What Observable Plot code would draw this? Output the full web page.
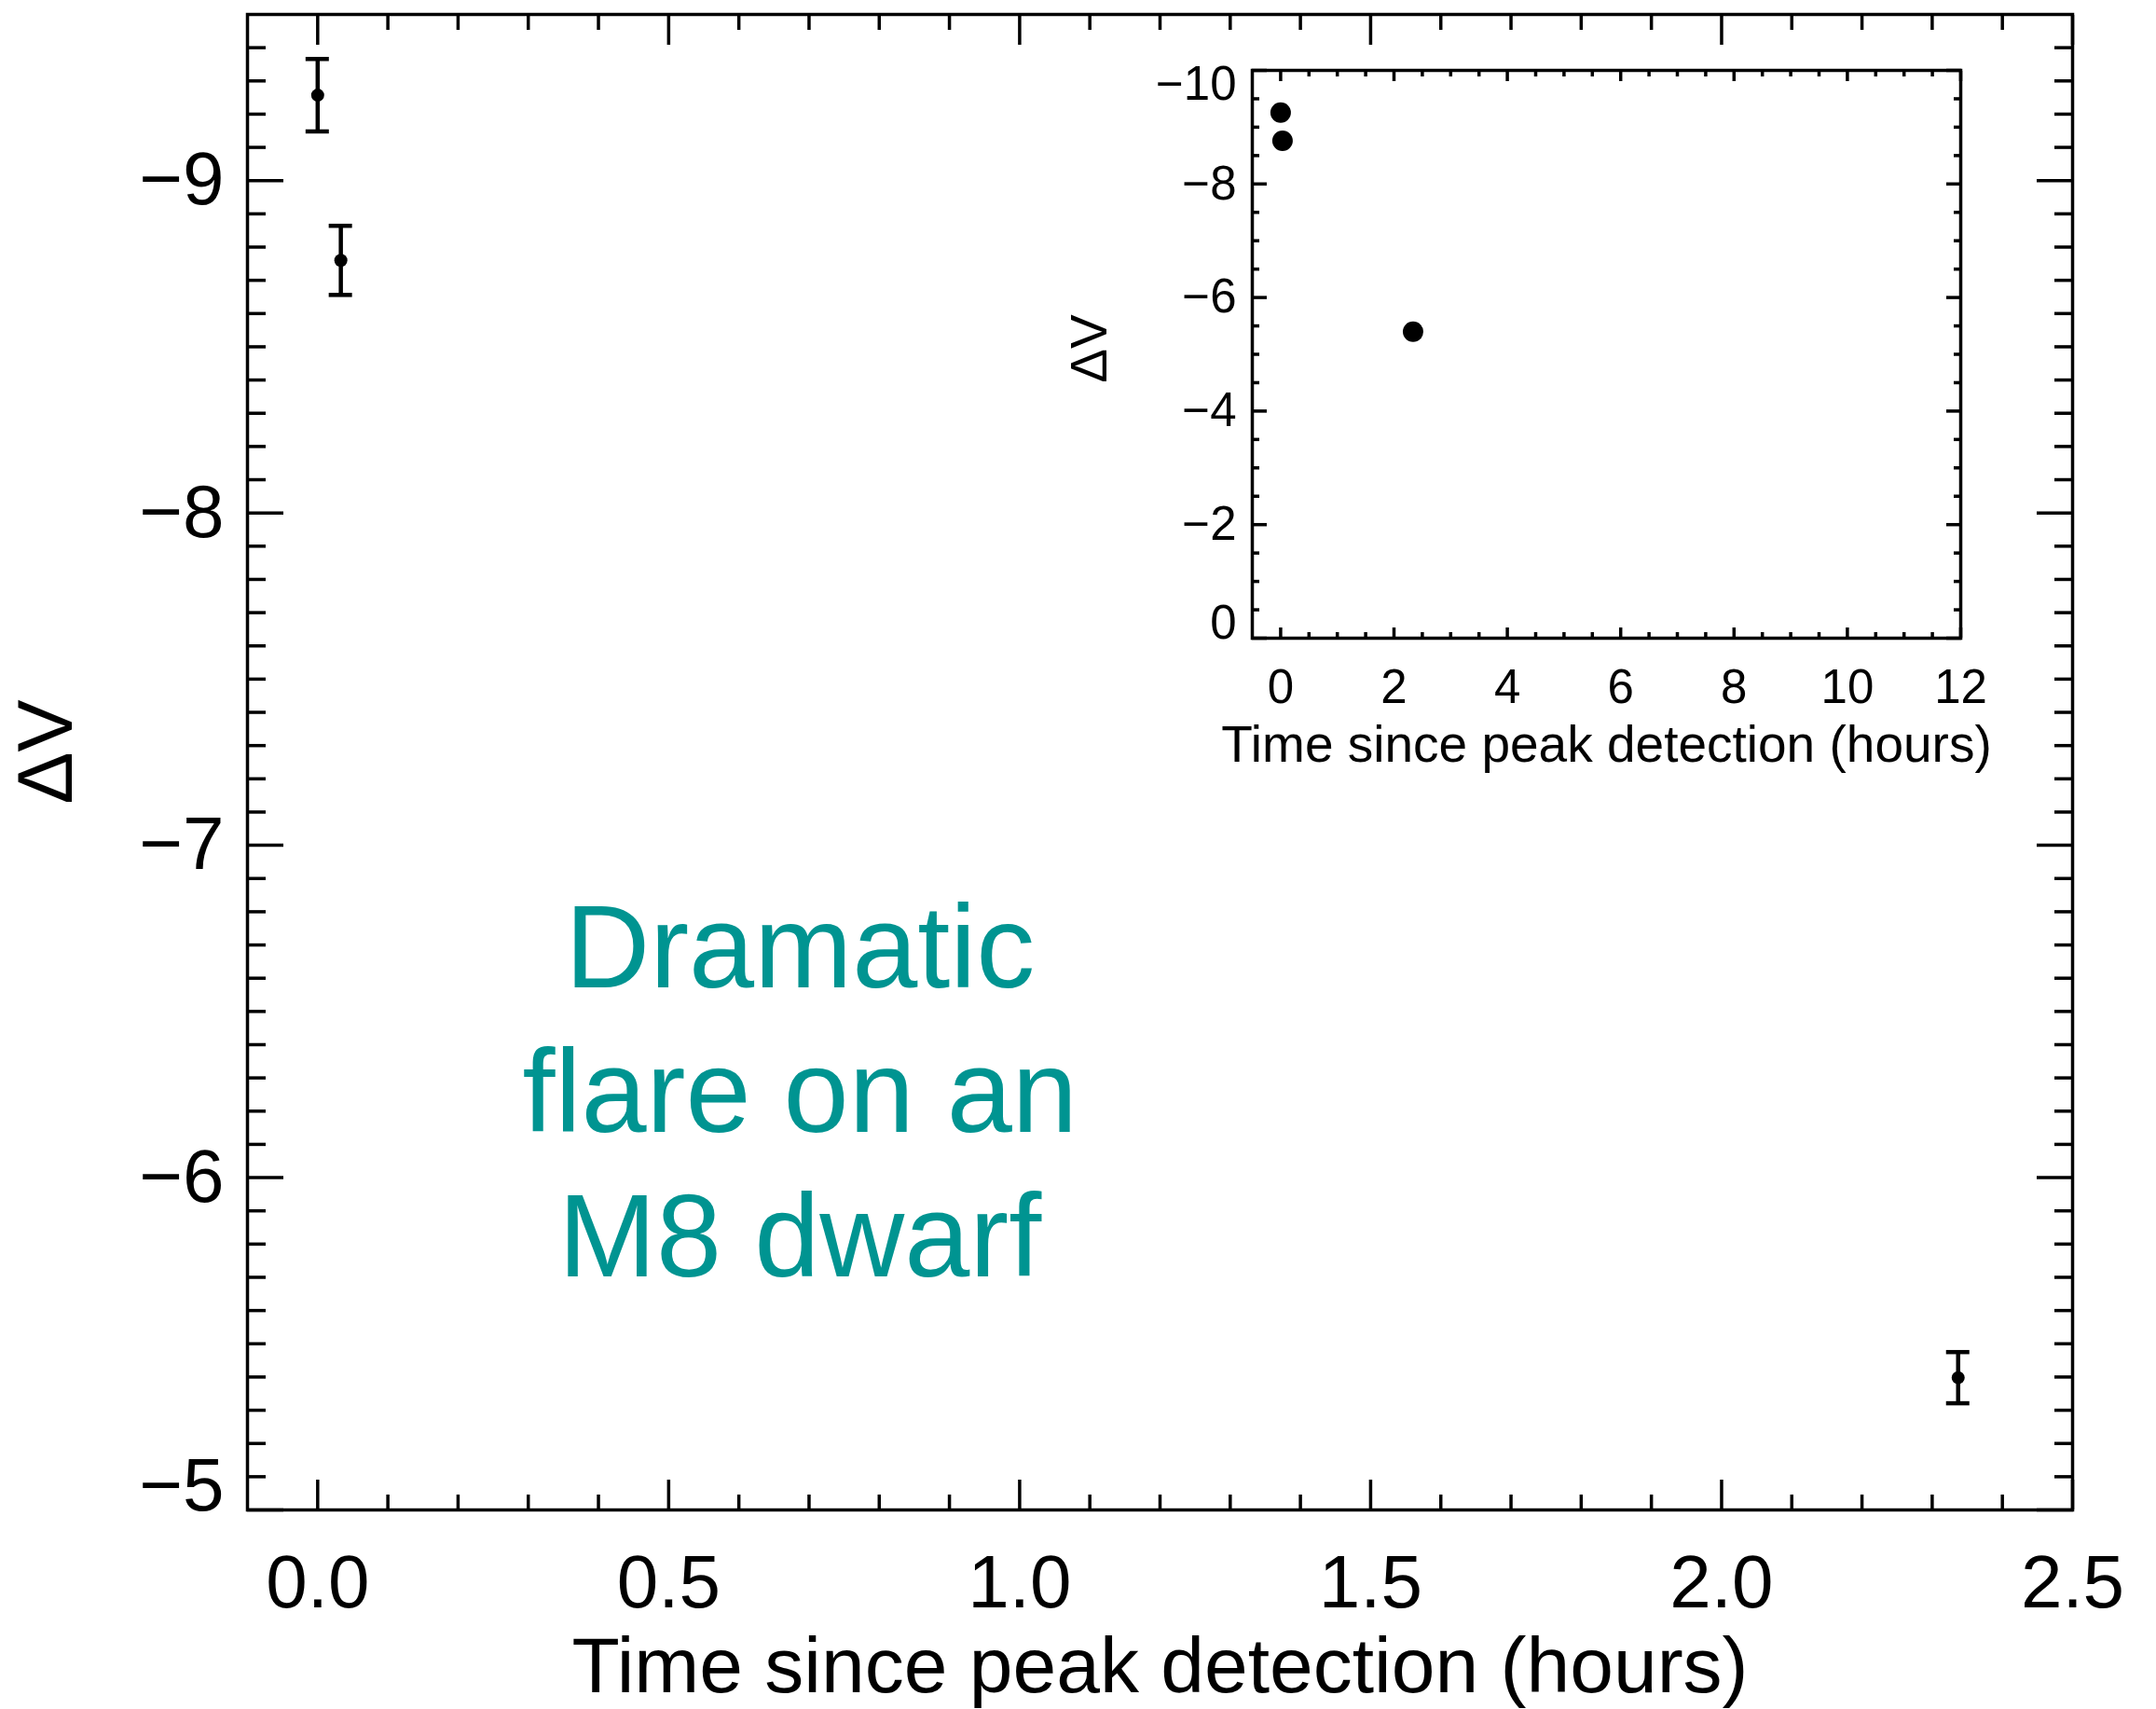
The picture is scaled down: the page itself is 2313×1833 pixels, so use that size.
<!DOCTYPE html>
<html><head><meta charset="utf-8">
<script src="https://cdn.jsdelivr.net/npm/d3@7"></script>
<script src="https://cdn.jsdelivr.net/npm/@observablehq/plot@0.6"></script>
<style>
html,body{margin:0;padding:0;background:#fff;overflow:hidden;}
#wrap{position:relative;width:2313px;height:1833px;}
#main{position:absolute;left:0;top:0;}
#inset{position:absolute;left:1100px;top:40px;}
</style></head>
<body><div id="wrap"><div id="main"></div><div id="inset"></div></div>
<script>
// ---- data ----
const time = [0.0, 0.033, 2.337];          // hours since peak detection
const deltaV = [-9.257, -8.760, -5.398];   // ΔV (mag)
const deltaVErr = [0.109, 0.104, 0.077];   // 1σ error

// ---- tick values / labels ----
const mainXTicks = [0, 0.5, 1.0, 1.5, 2.0, 2.5];
const mainXTickLabels = ["0.0", "0.5", "1.0", "1.5", "2.0", "2.5"];
const mainYTicks = [-9, -8, -7, -6, -5];
const mainYTickLabels = ["−9", "−8", "−7", "−6", "−5"];
const insetXTicks = [0, 2, 4, 6, 8, 10, 12];
const insetXTickLabels = ["0", "2", "4", "6", "8", "10", "12"];
const insetYTicks = [-10, -8, -6, -4, -2, 0];
const insetYTickLabels = ["−10", "−8", "−6", "−4", "−2", "0"];

const xTitle = "Time since peak detection (hours)";
const yTitle = "ΔV";
const annotation = [{time: 0.687, deltaV: -6.277, text: "Dramatic\nflare on an\nM8 dwarf"}];

// ---- helpers ----
const points = time.map((t, i) => ({time: t, dV: deltaV[i], lo: deltaV[i] - deltaVErr[i], hi: deltaV[i] + deltaVErr[i]}));
function minorTicks(a, b, step, majors) {
  return d3.range(Math.round(a / step), Math.round(b / step) + 1)
    .map(k => +(k * step).toFixed(6))
    .filter(v => !majors.some(m => Math.abs(m - v) < 1e-9));
}
const mainXMinor = minorTicks(0, 2.4, 0.1, mainXTicks);
const mainYMinor = minorTicks(-9.4, -5.1, 0.1, mainYTicks);
const insetXMinor = minorTicks(0.5, 11.5, 0.5, insetXTicks);
const insetYMinor = minorTicks(-9.5, -0.5, 0.5, insetYTicks);

const FONT = "'Liberation Sans', Arial, Helvetica, sans-serif";
const SW = 3.5;

function ticks(vals, anchor, size) {
  const ax = (anchor === "top" || anchor === "bottom") ? Plot.axisX : Plot.axisY;
  return ax(vals, {anchor, tickSize: -size, fill: "none", stroke: "black", strokeWidth: SW, label: null});
}

// ---- main plot ----
const mainYLab = mainYTicks.map((v, i) => ({v, label: mainYTickLabels[i]}));
const mainXLab = mainXTicks.map((v, i) => ({v, label: mainXTickLabels[i]}));

const main = Plot.plot({
  width: 2313, height: 1833,
  marginLeft: 265, marginRight: 90, marginTop: 15, marginBottom: 214,
  style: {background: "transparent", fontFamily: FONT, color: "black"},
  x: {domain: [-0.1, 2.5]},
  y: {domain: [-5.0, -9.5]},
  marks: [
    ticks(mainXTicks, "bottom", 32), ticks(mainXMinor, "bottom", 16),
    ticks(mainXTicks, "top", 32), ticks(mainXMinor, "top", 16),
    ticks(mainYTicks, "left", 39), ticks(mainYMinor, "left", 20),
    ticks(mainYTicks, "right", 39), ticks(mainYMinor, "right", 20),
    Plot.frame({stroke: "black", strokeWidth: SW}),
    Plot.text(mainXLab, {x: "v", text: "label", frameAnchor: "bottom", lineAnchor: "top", dy: 48, fontSize: 80, fill: "black"}),
    Plot.text(mainYLab.filter(d => d.v !== -5), {y: "v", text: "label", frameAnchor: "left", textAnchor: "end", dx: -25, fontSize: 80, fill: "black"}),
    Plot.text(mainYLab.filter(d => d.v === -5), {y: "v", text: "label", frameAnchor: "left", textAnchor: "end", lineAnchor: "bottom", dx: -25, fontSize: 80, fill: "black"}),
    Plot.text([xTitle], {frameAnchor: "bottom", lineAnchor: "top", dy: 136, fontSize: 84, fill: "black"}),
    Plot.text([yTitle], {frameAnchor: "left", textAnchor: "middle", rotate: -90, dx: -215, dy: -11, fontSize: 84, fill: "black"}),
    Plot.text(annotation, {x: "time", y: "deltaV", text: "text", fontSize: 126, lineHeight: 1.23, fill: "#009491"}),
    Plot.ruleX(points, {x: "time", y1: "lo", y2: "hi", stroke: "black", strokeWidth: 4.5}),
    Plot.ruleY(points, {x1: "time", x2: "time", y: "lo", insetLeft: -12.5, insetRight: -12.5, stroke: "black", strokeWidth: 4.5}),
    Plot.ruleY(points, {x1: "time", x2: "time", y: "hi", insetLeft: -12.5, insetRight: -12.5, stroke: "black", strokeWidth: 4.5}),
    Plot.dot(points, {x: "time", y: "dV", r: 7, fill: "black"})
  ]
});
document.getElementById("main").append(main);

// ---- inset plot ----
const insetYLab = insetYTicks.map((v, i) => ({v, label: insetYTickLabels[i]}));
const insetXLab = insetXTicks.map((v, i) => ({v, label: insetXTickLabels[i]}));

const inset = Plot.plot({
  width: 1100, height: 800,
  marginLeft: 243, marginRight: 97, marginTop: 35, marginBottom: 156,
  style: {background: "transparent", fontFamily: FONT, color: "black"},
  x: {domain: [-0.5, 12]},
  y: {domain: [0, -10]},
  marks: [
    ticks(insetXTicks, "bottom", 11), ticks(insetXMinor, "bottom", 6),
    ticks(insetXTicks, "top", 11), ticks(insetXMinor, "top", 6),
    ticks(insetYTicks, "left", 16), ticks(insetYMinor, "left", 8),
    ticks(insetYTicks, "right", 16), ticks(insetYMinor, "right", 8),
    Plot.frame({stroke: "black", strokeWidth: SW}),
    Plot.text(insetXLab, {x: "v", text: "label", frameAnchor: "bottom", lineAnchor: "top", dy: 33, fontSize: 51, fill: "black"}),
    Plot.text(insetYLab.filter(d => d.v !== 0 && d.v !== -10), {y: "v", text: "label", frameAnchor: "left", textAnchor: "end", dx: -17, fontSize: 51, fill: "black"}),
    Plot.text(insetYLab.filter(d => d.v === 0), {y: "v", text: "label", frameAnchor: "left", textAnchor: "end", lineAnchor: "bottom", dx: -17, fontSize: 51, fill: "black"}),
    Plot.text(insetYLab.filter(d => d.v === -10), {y: "v", text: "label", frameAnchor: "left", textAnchor: "end", lineAnchor: "top", dx: -17, dy: -5, fontSize: 51, fill: "black"}),
    Plot.text([xTitle], {frameAnchor: "bottom", lineAnchor: "top", dy: 93, fontSize: 55, fill: "black"}),
    Plot.text([yTitle], {frameAnchor: "left", textAnchor: "middle", rotate: -90, dx: -174, dy: -6, fontSize: 55, fill: "black"}),
    Plot.dot(points, {x: "time", y: "dV", r: 11, fill: "black"})
  ]
});
document.getElementById("inset").append(inset);
</script>
</body></html>
